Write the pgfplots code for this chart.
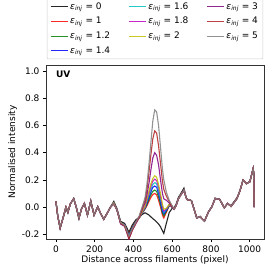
\documentclass[border=0pt]{standalone}
\usepackage{fontspec}
\setmainfont{DejaVu Sans}
\usepackage{pgfplots}
\usepackage{pgfplotstable}
\pgfplotsset{compat=1.18}
\definecolor{mk}{HTML}{000000}
\definecolor{mr}{HTML}{FF0000}
\definecolor{mg}{HTML}{008000}
\definecolor{mb}{HTML}{0000FF}
\definecolor{mc}{HTML}{00BFBF}
\definecolor{mm}{HTML}{BF00BF}
\definecolor{my}{HTML}{BFBF00}
\definecolor{mp}{HTML}{800080}
\definecolor{mbr}{HTML}{B22222}
\definecolor{mgr}{HTML}{808080}
\pgfplotstableread{
x k0 k1 k12 k14 k16 k18 k2 k3 k4 k5
0 0.044 0.044 0.044 0.044 0.044 0.044 0.044 0.044 0.044 0.044
10 -0.07 -0.07 -0.07 -0.07 -0.07 -0.07 -0.07 -0.07 -0.07 -0.07
22 -0.16 -0.152 -0.152 -0.152 -0.152 -0.152 -0.152 -0.152 -0.152 -0.15
35 -0.09 -0.09 -0.09 -0.09 -0.09 -0.09 -0.09 -0.09 -0.09 -0.09
52 -0.012 0.0 0.0 0.0 0.0 0.0 0.0 0.0 0.0 0.0
62 -0.045 -0.035 -0.035 -0.035 -0.035 -0.035 -0.035 -0.035 -0.035 -0.035
75 0.025 0.025 0.025 0.025 0.025 0.025 0.025 0.025 0.025 0.025
92 0.065 0.06 0.06 0.06 0.06 0.06 0.06 0.06 0.06 0.06
105 0.0 0.0 0.0 0.0 0.0 0.0 0.0 0.0 0.0 0.0
119 -0.088 -0.08 -0.08 -0.08 -0.08 -0.08 -0.08 -0.08 -0.08 -0.08
133 -0.01 -0.01 -0.01 -0.01 -0.01 -0.01 -0.01 -0.01 -0.01 -0.01
147 0.027 0.027 0.027 0.027 0.027 0.027 0.027 0.027 0.027 0.027
163 -0.059 -0.059 -0.059 -0.059 -0.059 -0.059 -0.059 -0.059 -0.059 -0.059
180 0.044 0.044 0.044 0.044 0.044 0.044 0.044 0.044 0.044 0.044
197 -0.059 -0.059 -0.059 -0.059 -0.059 -0.059 -0.059 -0.059 -0.059 -0.059
216 0.002 0.002 0.002 0.002 0.002 0.002 0.002 0.002 0.002 0.002
230 -0.045 -0.045 -0.045 -0.045 -0.045 -0.045 -0.045 -0.045 -0.045 -0.045
247 -0.09 -0.09 -0.09 -0.09 -0.09 -0.09 -0.09 -0.09 -0.09 -0.09
265 -0.045 -0.045 -0.045 -0.045 -0.045 -0.045 -0.045 -0.045 -0.045 -0.045
282 0.0 0.0 0.0 0.0 0.0 0.0 0.0 0.0 0.0 0.0
299 0.042 0.03 0.03 0.03 0.03 0.03 0.03 0.022 0.022 0.025
315 -0.01 -0.02 -0.02 -0.02 -0.02 -0.02 -0.02 -0.02 -0.02 -0.02
334 -0.105 -0.115 -0.115 -0.115 -0.115 -0.115 -0.115 -0.125 -0.12 -0.115
355 -0.12 -0.13 -0.131 -0.132 -0.133 -0.134 -0.136 -0.142 -0.14 -0.135
377 -0.185 -0.20 -0.205 -0.21 -0.215 -0.22 -0.225 -0.235 -0.232 -0.215
395 -0.13 -0.145 -0.148 -0.152 -0.155 -0.158 -0.162 -0.17 -0.168 -0.16
412 -0.095 -0.105 -0.107 -0.109 -0.111 -0.113 -0.115 -0.125 -0.12 -0.115
430 -0.075 -0.08 -0.08 -0.08 -0.08 -0.08 -0.08 -0.075 -0.07 -0.065
445 -0.055 -0.045 -0.045 -0.042 -0.04 -0.038 -0.035 -0.02 -0.01 0.0
460 -0.042 -0.015 -0.012 -0.008 -0.004 0.0 0.005 0.03 0.05 0.07
470 -0.05 0.01 0.02 0.03 0.04 0.05 0.06 0.09 0.13 0.17
480 -0.058 0.04 0.055 0.07 0.085 0.10 0.115 0.17 0.25 0.31
490 -0.072 0.07 0.09 0.11 0.13 0.15 0.17 0.27 0.38 0.47
500 -0.085 0.092 0.115 0.145 0.165 0.19 0.21 0.36 0.50 0.63
510 -0.096 0.10 0.125 0.155 0.18 0.205 0.23 0.40 0.56 0.715
520 -0.11 0.09 0.115 0.145 0.17 0.195 0.22 0.38 0.545 0.70
530 -0.125 0.05 0.075 0.10 0.12 0.145 0.165 0.31 0.45 0.60
540 -0.145 0.0 0.02 0.04 0.06 0.08 0.10 0.20 0.32 0.44
550 -0.175 -0.06 -0.045 -0.03 -0.015 0.0 0.02 0.10 0.19 0.28
557 -0.194 -0.08 -0.065 -0.05 -0.04 -0.03 -0.015 0.06 0.13 0.20
570 -0.12 -0.04 -0.03 -0.025 -0.02 -0.015 -0.01 0.05 0.08 0.11
585 -0.04 0.01 0.012 0.014 0.016 0.018 0.02 0.03 0.04 0.05
600 -0.01 0.0 0.0 0.0 0.0 0.0 0.0 0.0 0.005 0.01
610 -0.005 -0.015 -0.015 -0.015 -0.015 -0.015 -0.015 -0.015 -0.015 -0.015
620 0.02 0.01 0.01 0.01 0.01 0.01 0.01 0.01 0.01 0.01
632 0.07 0.06 0.06 0.06 0.06 0.06 0.06 0.06 0.06 0.06
645 0.1 0.09 0.09 0.09 0.09 0.09 0.09 0.09 0.09 0.09
661 0.14 0.125 0.125 0.125 0.125 0.125 0.125 0.122 0.122 0.125
672 0.07 0.07 0.07 0.07 0.07 0.07 0.07 0.07 0.07 0.07
680 0.05 0.05 0.05 0.05 0.05 0.05 0.05 0.05 0.05 0.05
690 0.055 0.055 0.055 0.055 0.055 0.055 0.055 0.055 0.055 0.055
700 0.045 0.045 0.045 0.045 0.045 0.045 0.045 0.045 0.045 0.045
712 -0.01 -0.01 -0.01 -0.01 -0.01 -0.01 -0.01 -0.01 -0.01 -0.01
727 -0.08 -0.08 -0.08 -0.08 -0.08 -0.08 -0.08 -0.08 -0.08 -0.08
744 -0.07 -0.07 -0.07 -0.07 -0.07 -0.07 -0.07 -0.07 -0.07 -0.07
767 -0.103 -0.103 -0.103 -0.103 -0.103 -0.103 -0.103 -0.103 -0.103 -0.103
788 -0.034 -0.034 -0.034 -0.034 -0.034 -0.034 -0.034 -0.034 -0.034 -0.034
805 0.002 0.002 0.002 0.002 0.002 0.002 0.002 0.002 0.002 0.002
822 0.064 0.064 0.064 0.064 0.064 0.064 0.064 0.064 0.064 0.064
845 0.057 0.057 0.057 0.057 0.057 0.057 0.057 0.057 0.057 0.057
869 -0.005 -0.005 -0.005 -0.005 -0.005 -0.005 -0.005 -0.005 -0.005 -0.005
886 0.027 0.027 0.027 0.027 0.027 0.027 0.027 0.027 0.027 0.027
904 0.01 0.005 0.005 0.005 0.005 0.005 0.005 0.005 0.005 0.005
935 0.07 0.064 0.064 0.064 0.064 0.064 0.064 0.064 0.064 0.064
950 0.12 0.12 0.12 0.12 0.12 0.12 0.12 0.12 0.12 0.12
966 0.199 0.199 0.199 0.199 0.199 0.199 0.199 0.199 0.199 0.199
983 0.17 0.174 0.174 0.174 0.174 0.174 0.174 0.174 0.174 0.174
1001 0.186 0.186 0.186 0.186 0.186 0.186 0.186 0.186 0.186 0.186
1018 0.284 0.284 0.284 0.284 0.284 0.284 0.284 0.284 0.284 0.284
1021 0.25 0.25 0.25 0.25 0.25 0.25 0.25 0.25 0.25 0.25
1023 0.0 0.0 0.0 0.0 0.0 0.0 0.0 0.0 0.0 0.0
}\datatable
\begin{document}
\begin{tikzpicture}
\useasboundingbox (-46pt,-35pt) rectangle (228pt,239pt);
\begin{axis}[
  at={(0,0)}, anchor=south west,
  scale only axis, width=218pt, height=174pt,
  xmin=-51, xmax=1074, ymin=-0.235, ymax=1.045,
  xtick={0,200,400,600,800,1000},
  ytick={-0.2,0,0.2,0.4,0.6,0.8,1.0},
  xticklabel style={/pgf/number format/set thousands separator={}},
  yticklabel style={/pgf/number format/fixed,/pgf/number format/precision=1,/pgf/number format/fixed zerofill},
  /pgf/number format/assume math mode=true,
  tick align=outside, tick pos=left,
  major tick length=3pt,
  tick style={black, line width=0.5pt},
  axis line style={line width=0.6pt, black!80},
  ticklabel style={font=\fontsize{9}{10}\selectfont},
  label style={font=\fontsize{9}{10}\selectfont},
  xlabel={Distance across filaments (pixel)},
  ylabel={Normalised intensity},
  xlabel style={yshift=4pt},
  ylabel style={yshift=-2pt},
  legend columns=3,
  legend style={at={(0.5,1.0)}, anchor=south, yshift=6pt,
    font=\fontsize{9}{10}\selectfont, draw=black!20, rounded corners=1pt,
    /tikz/every even column/.append style={column sep=16pt},
    row sep=2.6pt, inner xsep=3pt, inner ysep=2pt},
  legend cell align=left,
  legend image post style={line width=1pt},
  every axis plot/.append style={line width=1.1pt, opacity=0.85},
]
\addplot[mk, forget plot] table[x=x, y=k0] {\datatable};
\addplot[mr, forget plot] table[x=x, y=k1] {\datatable};
\addplot[mg, forget plot] table[x=x, y=k12] {\datatable};
\addplot[mb, forget plot] table[x=x, y=k14] {\datatable};
\addplot[mc, forget plot] table[x=x, y=k16] {\datatable};
\addplot[mm, forget plot] table[x=x, y=k18] {\datatable};
\addplot[my, forget plot] table[x=x, y=k2] {\datatable};
\addplot[mp, forget plot] table[x=x, y=k3] {\datatable};
\addplot[mbr, forget plot] table[x=x, y=k4] {\datatable};
\addplot[mgr, forget plot] table[x=x, y=k5] {\datatable};
\addlegendimage{mk}\addlegendentry{\textit{ε\textsubscript{inj}} = 0}
\addlegendimage{mc}\addlegendentry{\textit{ε\textsubscript{inj}} = 1.6}
\addlegendimage{mp}\addlegendentry{\textit{ε\textsubscript{inj}} = 3}
\addlegendimage{mr}\addlegendentry{\textit{ε\textsubscript{inj}} = 1}
\addlegendimage{mm}\addlegendentry{\textit{ε\textsubscript{inj}} = 1.8}
\addlegendimage{mbr}\addlegendentry{\textit{ε\textsubscript{inj}} = 4}
\addlegendimage{mg}\addlegendentry{\textit{ε\textsubscript{inj}} = 1.2}
\addlegendimage{my}\addlegendentry{\textit{ε\textsubscript{inj}} = 2}
\addlegendimage{mgr}\addlegendentry{\textit{ε\textsubscript{inj}} = 5}
\addlegendimage{mb}\addlegendentry{\textit{ε\textsubscript{inj}} = 1.4}
\node[anchor=north west, font=\fontsize{9}{10}\selectfont\bfseries] at (rel axis cs:0.03,0.985) {UV};
\end{axis}
\end{tikzpicture}
\end{document}
